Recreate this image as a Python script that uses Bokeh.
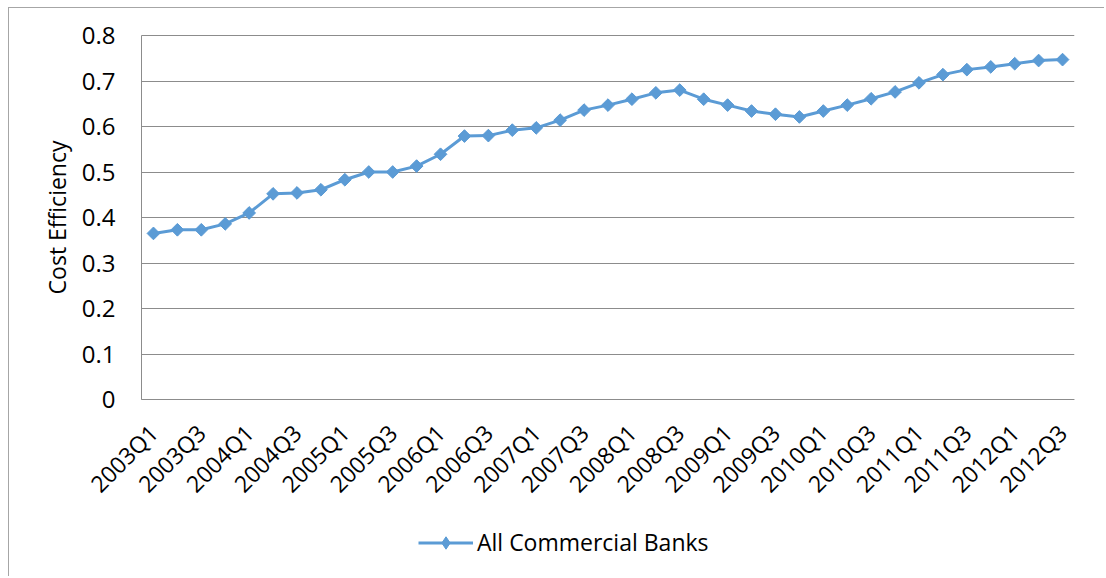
import math
from bokeh.plotting import figure
from bokeh.models import (Range1d, FixedTicker, NumeralTickFormatter, Legend, LegendItem,
                          Title, Grid)
from bokeh.embed import file_html
from bokeh.resources import INLINE

quarters = [f"{y}Q{q}" for y in range(2003, 2013) for q in range(1, 5)][:39]
cost_efficiency = [0.365, 0.373, 0.373, 0.386, 0.410, 0.452, 0.454, 0.461, 0.483, 0.500,
                   0.500, 0.513, 0.539, 0.579, 0.580, 0.592, 0.597, 0.614, 0.636, 0.647,
                   0.660, 0.674, 0.680, 0.660, 0.647, 0.634, 0.627, 0.621, 0.634, 0.647,
                   0.661, 0.676, 0.696, 0.714, 0.725, 0.731, 0.738, 0.745, 0.747]
series_name = "All Commercial Banks"
y_label = "Cost Efficiency"
y_ticks = [0, 0.1, 0.2, 0.3, 0.4, 0.5, 0.6, 0.7, 0.8]

FONT = "Open Sans"
BLUE = "#5B9BD5"
GRID = "#8c8c8c"

# layout (pixels)
W, H = 1096, 569
LEFT, RIGHT = 69, 31
GAP_TOP = 27            # frame room above the value area (for the top tick label)
GAP_LEFT = 63           # frame room left of the value area (for the y tick labels)
PLOT_H = 364            # height of the 0..0.8 value area
n = len(quarters)
x_lo, x_hi = -0.5, n - 0.5
px_per_cat = (W - LEFT - RIGHT - GAP_LEFT) / n
x_start = x_lo - GAP_LEFT / px_per_cat
y_max = 0.8
px_per_unit = PLOT_H / y_max
y_top = y_max + GAP_TOP / px_per_unit
y_min = -(H - GAP_TOP - PLOT_H) / px_per_unit

idx = list(range(n))

p = figure(width=W, height=H, output_backend="svg", toolbar_location=None,
           x_range=Range1d(x_start, x_hi), y_range=Range1d(y_min, y_top),
           min_border_left=LEFT, min_border_right=RIGHT, min_border_top=0, min_border_bottom=0)
p.styles = {"margin-left": "8px", "margin-top": "7px",
            "border-top": "1px solid #a6a6a6", "border-left": "1px solid #a6a6a6"}
p.outline_line_color = None
p.background_fill_color = "white"
p.border_fill_color = "white"

r_line = p.line(idx, cost_efficiency, line_color=BLUE, line_width=3)
r_dia = p.scatter(idx, cost_efficiency, marker="diamond", size=11,
                  fill_color=BLUE, line_color=BLUE)
r_pts = p.scatter(idx, cost_efficiency, marker="square", angle=math.pi / 4, size=9,
                  fill_color=BLUE, line_color=BLUE)

# x axis, crossing at value 0
p.xaxis.fixed_location = 0
p.xaxis.bounds = (x_lo, x_hi)
p.xaxis.ticker = FixedTicker(ticks=idx[::2])
p.xaxis.major_label_overrides = {i: quarters[i] for i in idx[::2]}
p.xaxis.major_label_orientation = math.pi / 4
p.xaxis.major_label_standoff = 29
p.xaxis.major_tick_out = 0
p.xaxis.major_tick_in = 0
p.xaxis.minor_tick_out = 0
p.xaxis.minor_tick_in = 0
p.xaxis.axis_line_color = GRID
p.xaxis.major_label_text_font = FONT
p.xaxis.major_label_text_font_size = "23px"
p.xaxis.major_label_text_color = "black"

# y axis, crossing at the left edge of the category area
p.yaxis.fixed_location = x_lo
p.yaxis.bounds = (0, y_max)
p.yaxis.ticker = FixedTicker(ticks=y_ticks)
p.yaxis.formatter = NumeralTickFormatter(format="0.[0]")
p.yaxis.major_label_standoff = 26
p.yaxis.major_tick_out = 0
p.yaxis.major_tick_in = 0
p.yaxis.minor_tick_out = 0
p.yaxis.minor_tick_in = 0
p.yaxis.axis_line_color = GRID
p.yaxis.major_label_text_font = FONT
p.yaxis.major_label_text_font_size = "24px"
p.yaxis.major_label_text_color = "black"

# y axis title
p.add_layout(Title(text=y_label, align="right", offset=105 + GAP_TOP, standoff=12,
                   text_font=FONT, text_font_size="23px", text_font_style="normal",
                   text_color="black"), "left")

p.xgrid.grid_line_color = None
p.ygrid.grid_line_color = GRID
p.ygrid.grid_line_width = 1
if "cross_bounds" in Grid.properties():
    p.ygrid.cross_bounds = (x_lo, x_hi)

legend = Legend(items=[LegendItem(label=series_name, renderers=[r_line, r_dia])],
                location=(277 + GAP_LEFT, 19), orientation="horizontal",
                glyph_width=55, glyph_height=31, label_standoff=4,
                padding=0, margin=0, spacing=0,
                label_text_font=FONT, label_text_font_size="23px", label_text_color="black",
                border_line_color=None, background_fill_alpha=0)
p.add_layout(legend, "center")

open("out.html", "w").write(file_html(p, INLINE))
